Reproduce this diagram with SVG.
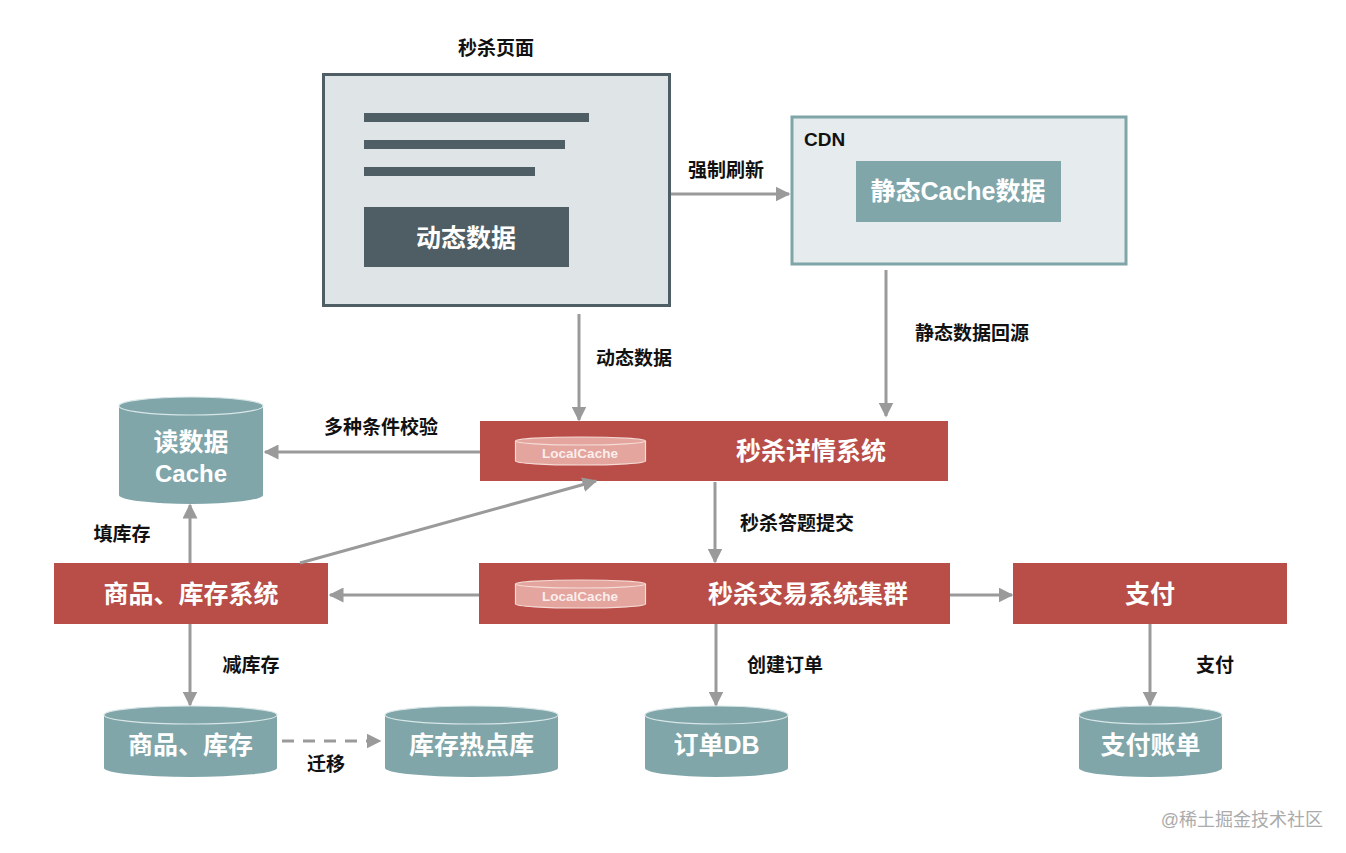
<svg xmlns="http://www.w3.org/2000/svg" width="1346" height="853" viewBox="0 0 1346 853">
<defs>
<style>
.lbl{font-family:"Liberation Sans","Noto Sans CJK SC",sans-serif;font-weight:bold;font-size:19px;fill:#111;text-anchor:middle;dominant-baseline:central}
.wt{font-family:"Liberation Sans","Noto Sans CJK SC",sans-serif;font-weight:bold;font-size:25px;fill:#fff;text-anchor:middle;dominant-baseline:central}
.red{fill:#b94d48}
.cyl{fill:#80a6aa}
.cyltop{fill:#80a6aa;stroke:#d8e6e7;stroke-width:1.2}
.line{stroke:#9a9a9a;stroke-width:3;fill:none}
.lc{fill:#e3a59d;stroke:#f6dcd7;stroke-width:1.2}
.lct{font-family:"Liberation Sans",Arial,sans-serif;font-weight:bold;font-size:13.5px;fill:#fbeeec;text-anchor:middle;dominant-baseline:central}
</style>
<marker id="ah" viewBox="0 0 10 10" refX="9" refY="5" markerWidth="5" markerHeight="5" orient="auto" markerUnits="strokeWidth">
<path d="M0,0 L10,5 L0,10 z" fill="#9a9a9a"/>
</marker>
</defs>
<rect width="1346" height="853" fill="#fff"/>

<g id="page">
<text class="lbl" x="496" y="48">秒杀页面</text>
<rect x="323.5" y="74.5" width="346" height="231" fill="#dfe5e6" stroke="#4f5e64" stroke-width="3"/>
<rect x="364" y="113" width="225" height="9" fill="#4f5e64"/>
<rect x="364" y="140" width="201" height="9" fill="#4f5e64"/>
<rect x="364" y="167" width="171" height="9" fill="#4f5e64"/>
<rect x="364" y="207" width="205" height="60" fill="#4f5e64"/>
<text class="wt" x="466" y="238">动态数据</text>
</g>

<g id="cdn">
<rect x="792" y="117" width="334" height="147" fill="#e6ecee" stroke="#7fa5a9" stroke-width="3"/>
<text class="lbl" x="804" y="139" style="text-anchor:start">CDN</text>
<rect x="856" y="161" width="205" height="61" fill="#80a6aa"/>
<text class="wt" x="958" y="191">静态Cache数据</text>
</g>

<g id="detail">
<rect class="red" x="480" y="421" width="468" height="60"/>
<path class="lc" d="M515.5,441 A65,4 0 0 1 645.5,441 V461 A65,4 0 0 1 515.5,461 Z"/>
<path d="M515.5,441 A65,4 0 0 0 645.5,441" fill="none" stroke="#f6dcd7" stroke-width="1.2"/>
<text class="lct" x="580" y="453">LocalCache</text>
<text class="wt" x="811" y="451">秒杀详情系统</text>
</g>

<g id="trade">
<rect class="red" x="479" y="563" width="471" height="61"/>
<path class="lc" d="M515.5,584 A65,4 0 0 1 645.5,584 V604 A65,4 0 0 1 515.5,604 Z"/>
<path d="M515.5,584 A65,4 0 0 0 645.5,584" fill="none" stroke="#f6dcd7" stroke-width="1.2"/>
<text class="lct" x="580" y="596">LocalCache</text>
<text class="wt" x="808" y="594">秒杀交易系统集群</text>
</g>

<g id="goods-sys">
<rect class="red" x="54" y="563" width="274" height="61"/>
<text class="wt" x="191" y="594">商品、库存系统</text>
</g>

<g id="pay">
<rect class="red" x="1013" y="563" width="274" height="61"/>
<text class="wt" x="1150" y="594">支付</text>
</g>

<g id="read-cache">
<path class="cyl" d="M119,406 A72,9 0 0 1 263,406 V495 A72,9 0 0 1 119,495 Z"/>
<ellipse class="cyltop" cx="191" cy="406" rx="72" ry="9"/>
<text class="wt" x="191" y="442">读数据</text>
<text class="wt" x="191" y="473" style="font-size:24px">Cache</text>
</g>

<g id="goods-db">
<path class="cyl" d="M104,715 A86.5,9 0 0 1 277,715 V768 A86.5,9 0 0 1 104,768 Z"/>
<ellipse class="cyltop" cx="190.5" cy="715" rx="86.5" ry="9"/>
<text class="wt" x="190.5" y="745">商品、库存</text>
</g>

<g id="hot-db">
<path class="cyl" d="M385,715 A86.5,9 0 0 1 558,715 V768 A86.5,9 0 0 1 385,768 Z"/>
<ellipse class="cyltop" cx="471.5" cy="715" rx="86.5" ry="9"/>
<text class="wt" x="471.5" y="745">库存热点库</text>
</g>

<g id="order-db">
<path class="cyl" d="M645,715 A71.5,9 0 0 1 788,715 V768 A71.5,9 0 0 1 645,768 Z"/>
<ellipse class="cyltop" cx="716.5" cy="715" rx="71.5" ry="9"/>
<text class="wt" x="716.5" y="745">订单DB</text>
</g>

<g id="pay-db">
<path class="cyl" d="M1079,715 A71.5,9 0 0 1 1222,715 V768 A71.5,9 0 0 1 1079,768 Z"/>
<ellipse class="cyltop" cx="1150.5" cy="715" rx="71.5" ry="9"/>
<text class="wt" x="1150.5" y="745">支付账单</text>
</g>

<g id="connectors">
<line class="line" x1="671" y1="194" x2="789" y2="194" marker-end="url(#ah)"/>
<line class="line" x1="886" y1="270" x2="886" y2="416" marker-end="url(#ah)"/>
<line class="line" x1="579" y1="314" x2="579" y2="420" marker-end="url(#ah)"/>
<line class="line" x1="480" y1="452" x2="265" y2="452" marker-end="url(#ah)"/>
<line class="line" x1="190" y1="563" x2="190" y2="505" marker-end="url(#ah)"/>
<line class="line" x1="300" y1="563" x2="596" y2="481" marker-end="url(#ah)"/>
<line class="line" x1="715" y1="482" x2="715" y2="562" marker-end="url(#ah)"/>
<line class="line" x1="479" y1="595" x2="330" y2="595" marker-end="url(#ah)"/>
<line class="line" x1="950" y1="595" x2="1012" y2="595" marker-end="url(#ah)"/>
<line class="line" x1="190" y1="624" x2="190" y2="705" marker-end="url(#ah)"/>
<line class="line" x1="716" y1="624" x2="716" y2="705" marker-end="url(#ah)"/>
<line class="line" x1="1150" y1="624" x2="1150" y2="705" marker-end="url(#ah)"/>
<line class="line" x1="282" y1="741" x2="380" y2="741" stroke-dasharray="12,9" marker-end="url(#ah)"/>
<text class="lbl" x="726" y="170">强制刷新</text>
<text class="lbl" x="972" y="333">静态数据回源</text>
<text class="lbl" x="634" y="358">动态数据</text>
<text class="lbl" x="381" y="427">多种条件校验</text>
<text class="lbl" x="122" y="534">填库存</text>
<text class="lbl" x="797" y="523">秒杀答题提交</text>
<text class="lbl" x="251" y="665">减库存</text>
<text class="lbl" x="785" y="665">创建订单</text>
<text class="lbl" x="1215" y="665">支付</text>
<text class="lbl" x="326" y="764">迁移</text>
</g>

<text x="1323" y="820" font-family="Liberation Sans,Noto Sans CJK SC,sans-serif" font-size="18" fill="#ababab" text-anchor="end" dominant-baseline="central">@稀土掘金技术社区</text>
</svg>
